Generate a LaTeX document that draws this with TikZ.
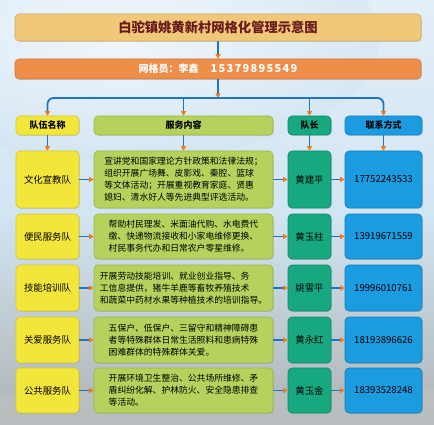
\documentclass[tikz,border=0pt]{standalone}
\usepackage{fontspec}
\setmainfont{Noto Sans CJK SC}
\usetikzlibrary{arrows.meta,shadows}
\definecolor{titlebg}{HTML}{F0C878}
\definecolor{titlefg}{HTML}{6A1A1A}
\definecolor{gridbg}{HTML}{EF8E48}
\definecolor{ybg}{HTML}{F2E63A}
\definecolor{ybd}{HTML}{D8C828}
\definecolor{gbg}{HTML}{B4D25C}
\definecolor{gbd}{HTML}{98B844}
\definecolor{tbg}{HTML}{17A880}
\definecolor{tbd}{HTML}{108C68}
\definecolor{bbg}{HTML}{1B9BE0}
\definecolor{bbd}{HTML}{1080C0}
\definecolor{arrblue}{HTML}{1E74C4}
\definecolor{arrorange}{HTML}{F27A1E}
\definecolor{skytop}{HTML}{E4EEF7}
\definecolor{skymid}{HTML}{D2E5F3}
\definecolor{ground}{HTML}{AEB3B4}
\begin{document}
\begin{tikzpicture}[x=1pt,y=-1pt,
  box/.style={rounded corners=4pt, inner sep=1pt, line width=0.6pt,
    drop shadow={opacity=0.25, shadow xshift=0.8pt, shadow yshift=-0.8pt}},
  ybox/.style={box, fill=ybg, draw=ybd, minimum width=63, text=black},
  gbox/.style={box, fill=gbg, draw=gbd, minimum width=179, text=black},
  tbox/.style={box, fill=tbg, draw=tbd, minimum width=43, text=black},
  bbox/.style={box, fill=bbg, draw=bbd, minimum width=77, text=black},
  hdr/.style={minimum height=19, font=\fontsize{9}{11}\selectfont\bfseries},
  namef/.style={font=\fontsize{9.4}{11}\selectfont},
  contf/.style={align=left, font=\fontsize{8.8}{12}\selectfont},
  phonef/.style={font=\fontsize{9.6}{11}\selectfont},
  arr/.style={draw=arrblue, line width=1.8pt,
    -{Triangle[length=4.5pt, width=5pt, color=arrorange]}},
]
\useasboundingbox (0,0) rectangle (434,425);
% background
\shade[top color=skytop, bottom color=ground, middle color=skymid] (0,0) rectangle (434,425);
\shade[inner color=white, outer color=skymid, opacity=0.5] (120,40) ellipse (260 and 120);
\fill[ground!80!white, opacity=0.6] (0,425) -- (0,395) .. controls (80,385) and (150,400) .. (220,392) .. controls (300,384) and (360,398) .. (434,388) -- (434,425) -- cycle;

% title
\node[box, fill=titlebg, draw=titlebg!85!black, minimum width=406, minimum height=27,
  font=\fontsize{13.3}{16}\selectfont\bfseries, text=titlefg] (title) at (218,27.5) {白驼镇姚黄新村网格化管理示意图};
\node[box, fill=gridbg, draw=gridbg!85!black, minimum width=406, minimum height=20,
  text=white] (grid) at (218,69)
  {\fontsize{10}{12}\selectfont\bfseries 网格员：李鑫\hspace{12pt}{\fontsize{11}{12}\selectfont\addfontfeature{LetterSpace=12}15379895549}};
\draw[arr] (title.south) -- (grid.north);

% headers
\node[ybox, hdr] (h1) at (47.5,125.5) {队伍名称};
\node[gbox, hdr] (h2) at (183.5,125.5) {服务内容};
\node[tbox, hdr] (h3) at (309.5,125.5) {队长};
\node[bbox, hdr] (h4) at (383.5,125.5) {联系方式};

\coordinate (bar) at (218,98);
\draw[arr] (grid.south) -- (bar);
\draw[arr, rounded corners=6pt] (bar) -| (h1.north);
\draw[arr] (bar) -| (h2.north);
\draw[arr] (bar) -| (h3.north);
\draw[arr, rounded corners=6pt] (bar) -| (h4.north);

% rows
\node[ybox, namef, minimum height=57] (n1) at (47.5,179.5) {文化宣教队};
\node[gbox, contf, minimum height=57] (c1) at (183.5,179.5) {宣讲党和国家理论方针政策和法律法规；\\组织开展广场舞、皮影戏、秦腔、篮球\\等文体活动；开展重视教育家庭、贤惠\\媳妇、清水好人等先进典型评选活动。};
\node[tbox, namef, minimum height=57] (l1) at (309.5,179.5) {黄建平};
\node[bbox, phonef, minimum height=57] (p1) at (383.5,179.5) {17752243533};

\node[ybox, namef, minimum height=45] (n2) at (47.5,236.5) {便民服务队};
\node[gbox, contf, minimum height=45] (c2) at (183.5,236.5) {帮助村民理发、米面油代购、水电费代\\缴、快递物流接收和小家电维修更换、\\村民事务代办和日常农户零星维修。};
\node[tbox, namef, minimum height=45] (l2) at (309.5,236.5) {黄玉柱};
\node[bbox, phonef, minimum height=45] (p2) at (383.5,236.5) {13919671559};

\node[ybox, namef, minimum height=46] (n3) at (47.5,288) {技能培训队};
\node[gbox, contf, minimum height=46] (c3) at (183.5,288) {开展劳动技能培训、就业创业指导、务\\工信息提供，猪牛羊鹿等畜牧养殖技术\\和蔬菜中药材水果等种植技术的培训指导。};
\node[tbox, namef, minimum height=46] (l3) at (309.5,288) {姚雪平};
\node[bbox, phonef, minimum height=46] (p3) at (383.5,288) {19996010761};

\node[ybox, namef, minimum height=46] (n4) at (47.5,340) {关爱服务队};
\node[gbox, contf, minimum height=46] (c4) at (183.5,340) {五保户、低保户、三留守和精神障碍患\\者等特殊群体日常生活照料和患病特殊\\困难群体的特殊群体关爱。};
\node[tbox, namef, minimum height=46] (l4) at (309.5,340) {黄永红};
\node[bbox, phonef, minimum height=46] (p4) at (383.5,340) {18193896626};

\node[ybox, namef, minimum height=45] (n5) at (47.5,390.5) {公共服务队};
\node[gbox, contf, minimum height=45] (c5) at (183.5,390.5) {开展环境卫生整治、公共场所维修、矛\\盾纠纷化解、护林防火、安全隐患排查\\等活动。};
\node[tbox, namef, minimum height=45] (l5) at (309.5,390.5) {黄玉金};
\node[bbox, phonef, minimum height=45] (p5) at (383.5,390.5) {18393528248};

% vertical arrows from headers
\draw[arr] (h1.south) -- (n1.north);
\draw[arr] (h2.south) -- (c1.north);
\draw[arr] (h3.south) -- (l1.north);
\draw[arr] (h4.south) -- (p1.north);

% horizontal arrows
\foreach \i in {1,...,5}{
  \draw[arr] (n\i.east) -- (c\i.west);
  \draw[arr] (c\i.east) -- (l\i.west);
  \draw[arr] (l\i.east) -- (p\i.west);
}
\end{tikzpicture}
\end{document}
